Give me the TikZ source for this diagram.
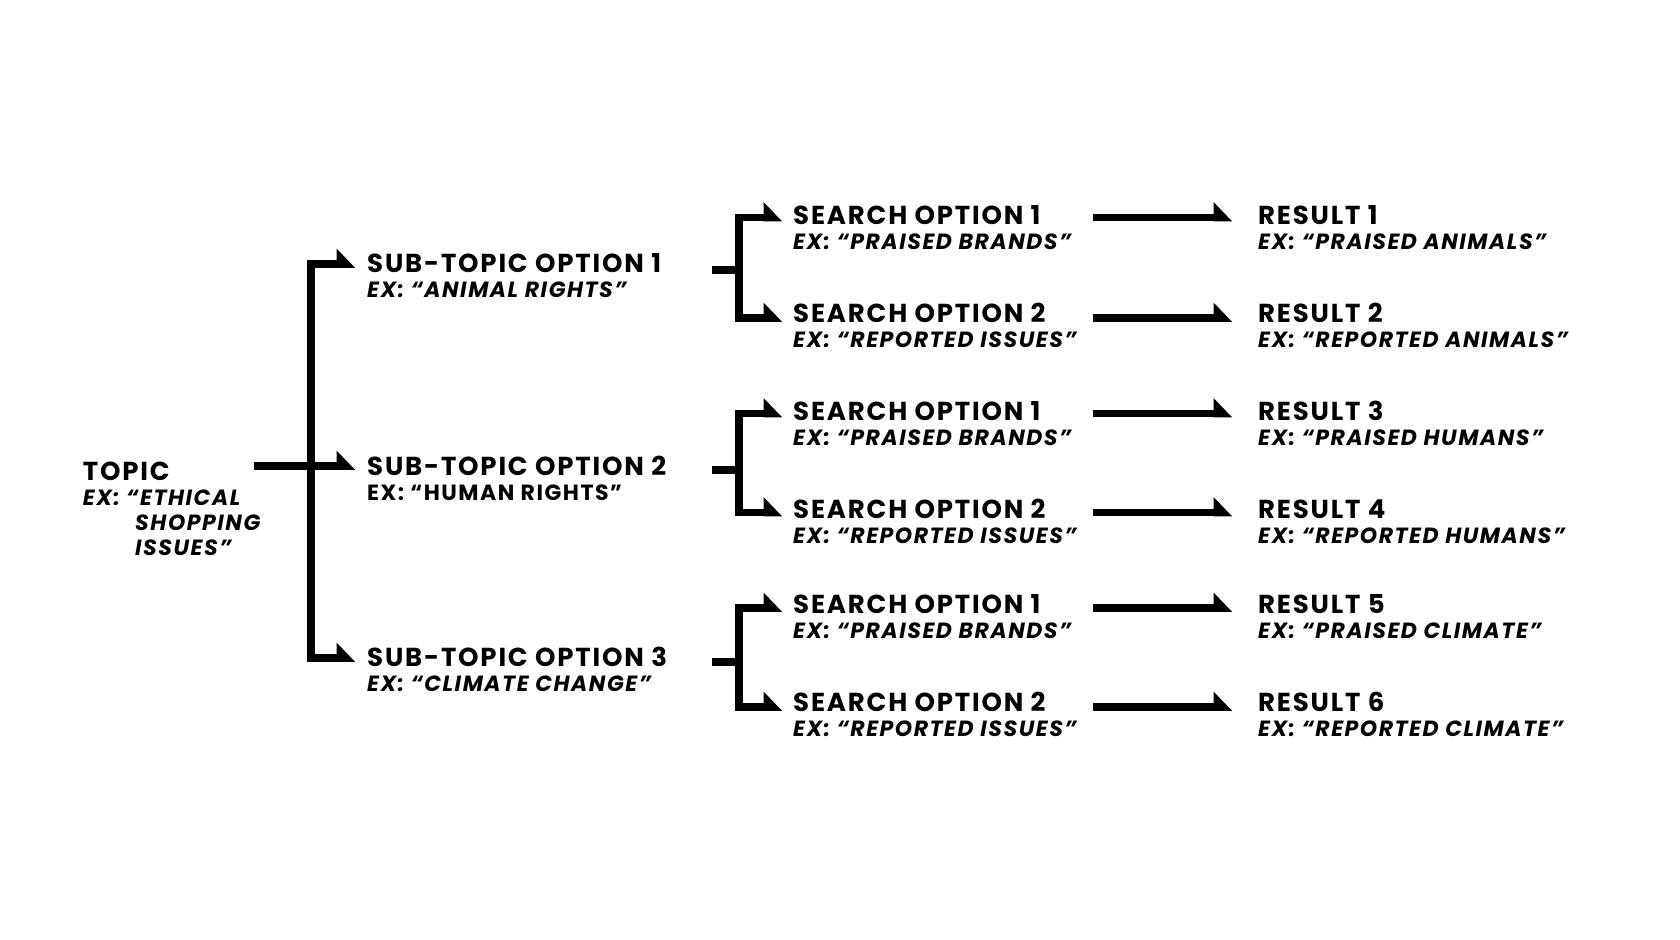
\documentclass[tikz,border=0pt]{standalone}
\usepackage{fontspec}
\setmainfont{Poppins}[LetterSpace=7]
\usetikzlibrary{calc}
\tikzset{
  conn/.style={line width=7.5pt, line join=miter, black},
  hd/.style={font=\fontsize{26}{26}\selectfont\bfseries, inner sep=0pt, anchor=base west},
  exi/.style={font=\fontsize{22}{22}\selectfont\bfseries\itshape, inner sep=0pt, anchor=base west},
  exu/.style={font=\fontsize{22}{22}\selectfont\bfseries, inner sep=0pt, anchor=base west},
}
\newcommand\tiphead[1]{\fill ($(#1)+(-18.5,3.75)$) -- ($(#1)+(-18.5,-15.5)$) -- ($(#1)+(0,3.75)$) -- cycle;}
\begin{document}
\begin{tikzpicture}[x=1pt,y=-1pt]
\useasboundingbox[fill=white] (0,0) rectangle (1680,939);
% topic
\node[hd] (topic) at (82.7,480) {TOPIC};
\node[exi] (topicx1) at (82.7,505) {EX: “ETHICAL};
\node[exi] (topicx2) at (135,530) {SHOPPING};
\node[exi] (topicx3) at (135,555) {ISSUES”};
% subtopics
\node[hd] (sub1) at (367,272.75) {SUB-TOPIC OPTION 1};
\node[exi] (sub1x) at (367,297.75) {EX: “ANIMAL RIGHTS”};
\node[hd] (sub2) at (367,475) {SUB-TOPIC OPTION 2};
\node[exu] (sub2x) at (367,500) {EX: “HUMAN RIGHTS”};
\node[hd] (sub3) at (367,666.5) {SUB-TOPIC OPTION 3};
\node[exi] (sub3x) at (367,691.5) {EX: “CLIMATE CHANGE”};
% trunk
\coordinate (t0) at (254,466);
\coordinate (tt) at (311,264);
\coordinate (tb) at (311,658);
\coordinate (a1) at (355,264);
\coordinate (a2) at (355,466);
\coordinate (a3) at (355,658);
\draw[conn] ($(a1)+(-8,0)$) -- (tt) -- (tb) -- ($(a3)+(-8,0)$);
\draw[conn] (t0) -- ($(a2)+(-8,0)$);
\tiphead{a1}\tiphead{a2}\tiphead{a3}
% search brackets
\foreach \g/\s/\u/\l in {1/270/217.5/318, 2/470/413.5/512.5, 3/662/608/707}{
  \coordinate (g\g s) at (712,\s);
  \coordinate (g\g j) at (739,\s);
  \coordinate (g\g u) at (739,\u);
  \coordinate (g\g l) at (739,\l);
  \coordinate (p\g u) at (782,\u);
  \coordinate (p\g l) at (782,\l);
  \draw[conn] ($(p\g u)+(-8,0)$) -- (g\g u) -- (g\g l) -- ($(p\g l)+(-8,0)$);
  \draw[conn] (g\g s) -- (g\g j);
  \tiphead{p\g u}\tiphead{p\g l}
}
% search labels and results
\foreach \i/\b/\y/\st/\sx/\rx in {
  1/224/217.5/1/PRAISED BRANDS/PRAISED ANIMALS,
  2/322.3/318/2/REPORTED ISSUES/REPORTED ANIMALS,
  3/420/413.5/1/PRAISED BRANDS/PRAISED HUMANS,
  4/518.3/512.5/2/REPORTED ISSUES/REPORTED HUMANS,
  5/613.3/608/1/PRAISED BRANDS/PRAISED CLIMATE,
  6/711.5/707/2/REPORTED ISSUES/REPORTED CLIMATE}{
  \node[hd] (so\i) at (793,\b) {SEARCH OPTION \st};
  \node[exi] (so\i x) at (793,\b+25) {EX: “\sx”};
  \node[hd] (res\i) at (1258,\b) {RESULT \i};
  \node[exi] (res\i x) at (1258,\b+25) {EX: “\rx”};
  \coordinate (rs\i) at (1093,\y);
  \coordinate (rt\i) at (1232,\y);
  \draw[conn] (rs\i) -- ($(rt\i)+(-8,0)$);
  \tiphead{rt\i}
}
\end{tikzpicture}
\end{document}
